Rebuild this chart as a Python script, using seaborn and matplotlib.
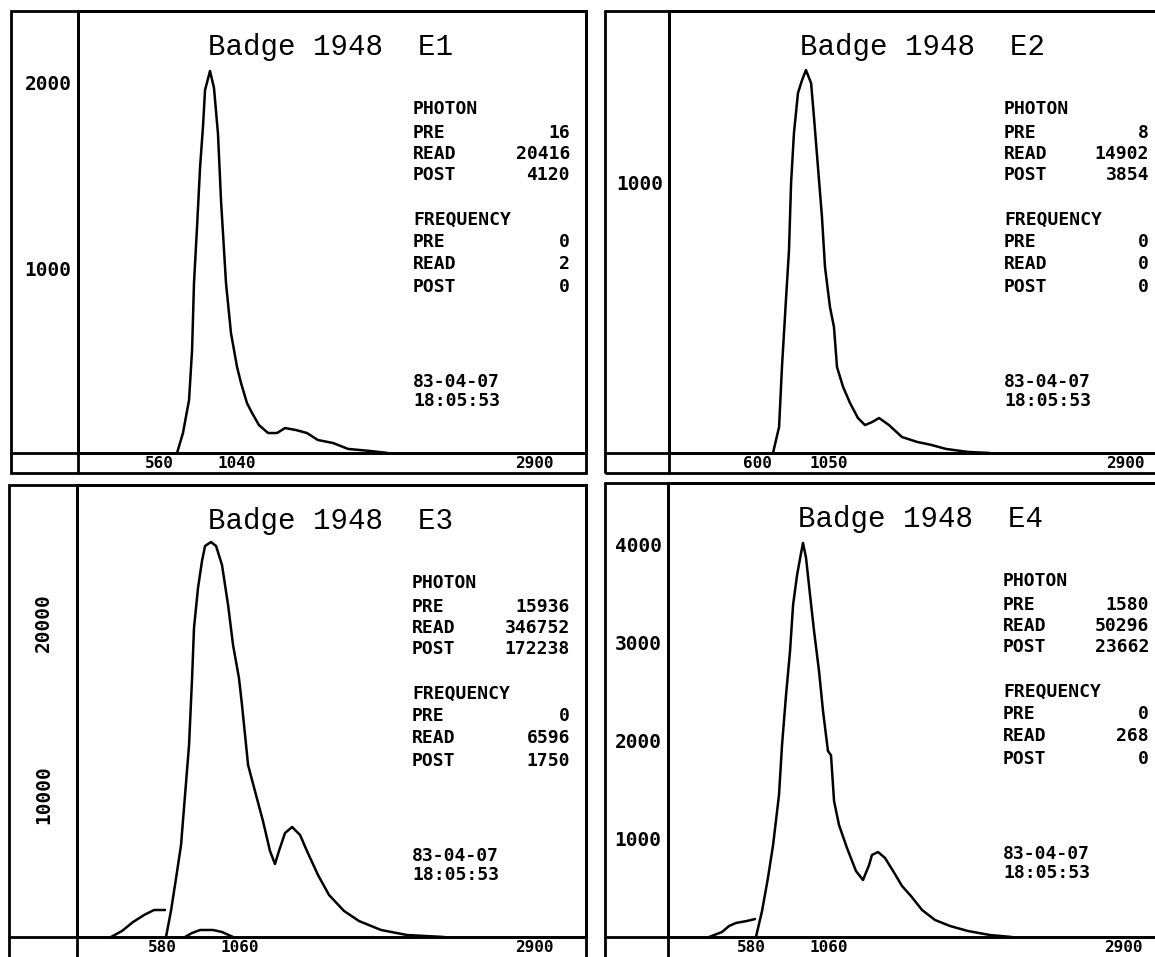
import matplotlib
matplotlib.use("Agg")
import matplotlib.pyplot as plt
from matplotlib.lines import Line2D
from matplotlib.patches import Rectangle
import seaborn as sns

# ---- data ----
e1_channel = [669, 706, 744, 763, 775, 794, 813, 831, 844, 875, 900, 925, 944, 975, 1006, 1044,
              1069, 1106, 1138, 1181, 1238, 1294, 1344, 1413, 1481, 1550, 1644, 1738, 1875, 1988]
e1_counts = [0, 108, 286, 557, 919, 1222, 1546, 1762, 1962, 2065, 1973, 1724, 1362, 919, 649, 465,
             378, 270, 216, 151, 108, 108, 135, 124, 108, 70, 54, 22, 11, 0]

e2_channel = [700, 738, 756, 781, 800, 813, 831, 856, 881, 906, 938, 956, 981, 1006, 1025, 1056,
              1081, 1100, 1138, 1181, 1231, 1275, 1319, 1363, 1425, 1506, 1600, 1688, 1781, 1919, 2056]
e2_counts = [0, 96, 317, 565, 749, 996, 1181, 1328, 1375, 1413, 1365, 1240, 1055, 871, 686, 539,
             465, 317, 244, 185, 129, 103, 114, 129, 103, 59, 41, 30, 15, 4, 0]

e3_channel = [600, 631, 663, 694, 719, 744, 763, 775, 800, 825, 844, 881, 913, 950, 988, 1019, 1056,
              1075, 1113, 1156, 1206, 1250, 1281, 1306, 1344, 1388, 1438, 1481, 1550, 1619, 1713,
              1806, 1944, 2106, 2338]
e3_counts = [0, 1512, 3430, 5349, 8256, 11163, 15058, 17965, 20291, 21860, 22733, 22965, 22733,
             21628, 19302, 16977, 15058, 13488, 10000, 8488, 6744, 5000, 4244, 5000, 6047, 6395,
             5930, 5000, 3605, 2442, 1512, 930, 407, 116, 0]
e3_pre_channel = [256, 325, 394, 463, 525, 594]
e3_pre_counts = [0, 349, 872, 1279, 1570, 1570]
e3_freq_channel = [719, 763, 813, 894, 950, 1019]
e3_freq_counts = [0, 233, 407, 407, 291, 0]

e4_channel = [606, 644, 681, 713, 750, 769, 794, 819, 838, 863, 888, 900, 919, 944, 969, 1000, 1025,
              1056, 1075, 1094, 1125, 1175, 1231, 1275, 1313, 1331, 1369, 1413, 1463, 1519, 1575,
              1644, 1725, 1819, 1931, 2069, 2206]
e4_counts = [0, 265, 601, 937, 1445, 1955, 2463, 2911, 3380, 3685, 3909, 4011, 3858, 3482, 3115,
             2708, 2301, 1893, 1850, 1384, 1140, 906, 672, 580, 733, 835, 865, 804, 672, 519, 417,
             275, 173, 112, 61, 20, 0]
e4_pre_channel = [313, 394, 438, 481, 550, 600]
e4_pre_counts = [0, 51, 112, 143, 163, 183]

titles = ["Badge 1948  E1", "Badge 1948  E2", "Badge 1948  E3", "Badge 1948  E4"]
x_ticks = [[560, 1040, 2900], [600, 1050, 2900], [580, 1060, 2900], [580, 1060, 2900]]
y_ticks = [[1000, 2000], [1000], [10000, 20000], [1000, 2000, 3000, 4000]]

photon_pre = ["16", "8", "15936", "1580"]
photon_read = ["20416", "14902", "346752", "50296"]
photon_post = ["4120", "3854", "172238", "23662"]
freq_pre = ["0", "0", "0", "0"]
freq_read = ["2", "0", "6596", "268"]
freq_post = ["0", "0", "1750", "0"]
run_date = "83-04-07"
run_time = "18:05:53"

# ---- layout of the scanned sheet (pixels) ----
W, H = 1155, 957
PX_PER_CH = 0.16
# left, top, right, bottom, axis line, baseline, channel-zero x, px per count
panels = [
    (11, 11, 586, 473, 78, 453, 70, 185 / 1000),
    (605, 11, 1165, 473, 669, 453, 661, 271 / 1000),
    (9, 485, 586, 958, 77, 937, 70, 172 / 10000),
    (605, 483, 1165, 958, 668, 937, 659, 98.25 / 1000),
]
curves = [
    [(e1_channel, e1_counts)],
    [(e2_channel, e2_counts)],
    [(e3_channel, e3_counts), (e3_pre_channel, e3_pre_counts), (e3_freq_channel, e3_freq_counts)],
    [(e4_channel, e4_counts), (e4_pre_channel, e4_pre_counts)],
]
text_rows = [98, 122, 143, 164, 209, 231, 253, 276, 371, 390]

sns.set_style("white")
plt.rcParams['font.family'] = ['DejaVu Sans Mono', 'DejaVu Sans']
plt.rcParams['text.color'] = 'black'
plt.rcParams['xtick.color'] = 'black'
plt.rcParams['ytick.color'] = 'black'

fig = plt.figure(figsize=(W / 100, H / 100), dpi=100)


def fx(x):
    return x / W


def fy(y):
    return 1 - y / H


for i, (left, top, right, bottom, axis, base, zero, ppc) in enumerate(panels):
    ax = fig.add_axes([fx(axis), fy(base), fx(right) - fx(axis), fy(top) - fy(base)])
    for xs, ys in curves[i]:
        sns.lineplot(x=xs, y=ys, ax=ax, color="black", linewidth=1.8)
    ax.set_xlim((axis - zero) / PX_PER_CH, (right - zero) / PX_PER_CH)
    ax.set_ylim(0, (base - top) / ppc)
    ax.set_xlabel("")
    ax.set_ylabel("")
    for sp in ax.spines.values():
        sp.set_linewidth(2)
        sp.set_color("black")

    ax.set_xticks(x_ticks[i], labels=[str(v) for v in x_ticks[i]],
                  fontsize=11.5, fontweight="bold", color="black")
    ax.tick_params(axis="x", direction="inout", length=6, width=1.5, pad=-1)
    if i == 2:
        ax.set_yticks(y_ticks[i], labels=[str(v) for v in y_ticks[i]], fontsize=14,
                      fontweight="bold", color="black", rotation=90, rotation_mode="anchor",
                      ha="right", va="center")
        ax.tick_params(axis="y", direction="out", length=2, width=2, pad=22)
    else:
        ax.set_yticks(y_ticks[i], labels=[str(v) for v in y_ticks[i]], fontsize=14,
                      fontweight="bold", color="black")
        ax.tick_params(axis="y", direction="inout", length=9, width=1.5, pad=0)

    # outer frame and the lines running through the label strips
    fig.add_artist(Rectangle((fx(left), fy(bottom)), fx(right) - fx(left), fy(top) - fy(bottom),
                             transform=fig.transFigure, fill=False, lw=2, ec="black"))
    fig.add_artist(Line2D([fx(left), fx(right)], [fy(base), fy(base)], lw=2, color="black"))
    fig.add_artist(Line2D([fx(axis), fx(axis)], [fy(top), fy(bottom)], lw=2, color="black"))

    fig.text(fx(axis + 253), fy(top + 36), titles[i], ha="center", va="center",
             fontsize=21, family="Liberation Mono", color="black")

    tx = fx(axis + 335)
    vx = fx(right - 16)
    labels = ["PHOTON", "PRE", "READ", "POST", "FREQUENCY", "PRE", "READ", "POST", run_date, run_time]
    values = ["", photon_pre[i], photon_read[i], photon_post[i], "",
              freq_pre[i], freq_read[i], freq_post[i], "", ""]
    for lab, val, row in zip(labels, values, text_rows):
        fig.text(tx, fy(top + row), lab, ha="left", va="center", fontsize=13,
                 fontweight="bold", color="black")
        if val:
            fig.text(vx, fy(top + row), val, ha="right", va="center", fontsize=13,
                     fontweight="bold", color="black")

fig.savefig("out.png", dpi=100)
